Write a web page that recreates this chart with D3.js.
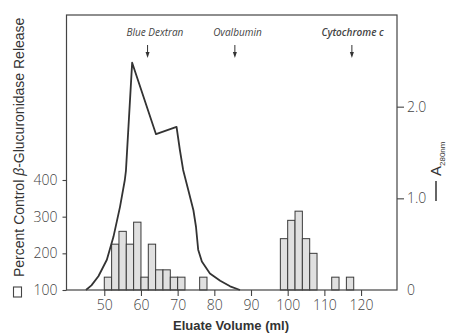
<!DOCTYPE html>
<html>
<head>
<meta charset="utf-8">
<script src="https://cdn.jsdelivr.net/npm/d3@7"></script>
<style>
  body { margin: 0; background: #fff; }
  .tick text { font-family: "Open Sans", sans-serif; font-weight: 300; font-size: 14px; fill: #444; }
  .marker { font-family: "Open Sans", sans-serif; font-style: italic; font-size: 10px; fill: #444; }
</style>
</head>
<body>
<script>
// fractions: left edge of each 2 ml fraction, and % control release
var binStart = [50, 52, 54, 56, 58, 60, 62, 64, 66, 68, 70, 76, 98, 100, 102, 104, 106, 112, 116]
var release  = [135, 225, 260, 225, 285, 135, 225, 155, 155, 135, 135, 135, 240, 290, 315, 240, 200, 135, 135]
var binWidth = 2

// A280 trace
var volume = [45, 46.5, 48.4, 50.7, 52.5, 54.3, 55.6, 55.9, 57.6, 64.1, 69.7, 70.6, 71.5, 72.9, 74.3, 75.0, 75.6, 76.6, 78.8, 81.6, 84.3, 87]
var a280   = [0, 0.05, 0.15, 0.33, 0.58, 0.91, 1.20, 1.30, 2.48, 1.70, 1.78, 1.53, 1.31, 1.09, 0.87, 0.69, 0.44, 0.31, 0.18, 0.10, 0.04, 0]

// markers
var markerNames = ["Blue Dextran", "Ovalbumin", "Cytochrome c"]
var markerVolume = [61.8, 85.6, 117.5]
var markerLabelVolume = [63.8, 86.3, 117.7]

var xTicks = [50, 60, 70, 80, 90, 100, 110, 120]
var leftTicks = [100, 200, 300, 400]
var rightTicks = [0, 1.0, 2.0]

function main() {
  var svg = d3.select("body").append("svg").attr("width", 452).attr("height", 333)

  var left = 66.5, right = 397, top = 15, bottom = 290

  var x = d3.scaleLinear().domain([39.7, 129.8]).range([left, right])
  var yL = d3.scaleLinear().domain([100, 850]).range([bottom, top])
  var yR = d3.scaleLinear().domain([0, 3]).range([bottom, top])

  // bars
  var bars = binStart.map(function(d, i) { return {x0: d, v: release[i]} })
  svg.selectAll("rect.bar")
    .data(bars)
    .enter()
    .append("rect")
    .attr("class", "bar")
    .attr("x", function(d) { return x(d.x0) })
    .attr("width", function(d) { return x(d.x0 + binWidth) - x(d.x0) })
    .attr("y", function(d) { return yL(d.v) })
    .attr("height", function(d) { return yL(100) - yL(d.v) })
    .attr("fill", "#e0e0e0")
    .attr("stroke", "#3a3a3a")
    .attr("stroke-width", 1)

  // A280 line
  var pts = volume.map(function(d, i) { return [d, a280[i]] })
  var line = d3.line()
    .x(function(d) { return x(d[0]) })
    .y(function(d) { return yR(d[1]) })
  svg.append("path")
    .datum(pts)
    .attr("d", line)
    .attr("fill", "none")
    .attr("stroke", "#333")
    .attr("stroke-width", 1.8)
    .attr("stroke-linejoin", "round")

  // frame
  svg.append("rect")
    .attr("x", left).attr("y", top)
    .attr("width", right - left).attr("height", bottom - top)
    .attr("fill", "none")
    .attr("stroke", "#444")
    .attr("stroke-width", 1.2)

  // axes
  var gx = svg.append("g").attr("transform", "translate(0," + bottom + ")")
    .call(d3.axisBottom(x).tickValues(xTicks).tickSize(6).tickPadding(4).tickFormat(d3.format("d")))
  var gl = svg.append("g").attr("transform", "translate(" + left + ",0)")
    .call(d3.axisLeft(yL).tickValues(leftTicks).tickSize(4).tickPadding(5).tickFormat(d3.format("d")))
  var gr = svg.append("g").attr("transform", "translate(" + right + ",0)")
    .call(d3.axisRight(yR).tickValues(rightTicks).tickSize(7).tickPadding(3)
      .tickFormat(function(d) { return d === 0 ? "0" : d3.format(".1f")(d) }))
  ;[gx, gl, gr].forEach(function(g) {
    g.select(".domain").remove()
    g.selectAll(".tick line").attr("stroke", "#444").attr("stroke-width", 1.1)
  })
  gr.selectAll(".tick").filter(function(d) { return d === 0 }).select("line").remove()
  gr.selectAll(".tick").filter(function(d) { return d === 0 }).select("text").attr("x", 10)

  // markers
  markerNames.forEach(function(name, i) {
    svg.append("text")
      .attr("class", "marker")
      .attr("x", x(markerLabelVolume[i]))
      .attr("y", 36)
      .attr("text-anchor", "middle")
      .style("font-weight", i === 2 ? 600 : 400)
      .text(name)
    var ax = x(markerVolume[i])
    svg.append("line")
      .attr("x1", ax).attr("x2", ax).attr("y1", 45).attr("y2", 55)
      .attr("stroke", "#333").attr("stroke-width", 1)
    svg.append("path")
      .attr("d", "M" + (ax - 2) + ",52 L" + (ax + 2) + ",52 L" + ax + ",58 Z")
      .attr("fill", "#333")
  })

  // axis titles
  svg.append("text")
    .attr("x", 231).attr("y", 330)
    .attr("text-anchor", "middle")
    .style("font-family", "Liberation Sans, Arial, sans-serif")
    .style("font-size", "13px")
    .style("font-weight", "bold")
    .attr("fill", "#333")
    .text("Eluate Volume (ml)")

  var lt = svg.append("text")
    .attr("transform", "translate(24,277) rotate(-90)")
    .style("font-family", "Liberation Sans, Arial, sans-serif")
    .style("font-size", "14px")
    .attr("fill", "#333")
  lt.append("tspan").text("Percent Control ")
  lt.append("tspan").style("font-style", "italic").text("\u03B2")
  lt.append("tspan").text("-Glucuronidase Release")

  svg.append("rect")
    .attr("x", 13.5).attr("y", 287).attr("width", 8).attr("height", 10)
    .attr("fill", "none").attr("stroke", "#444").attr("stroke-width", 1.1)

  var rt = svg.append("g").attr("transform", "translate(437,201) rotate(-90)")
  rt.append("line").attr("x1", 0).attr("x2", 20).attr("y1", -1).attr("y2", -1)
    .attr("stroke", "#333").attr("stroke-width", 1.5)
  var rtxt = rt.append("text").attr("x", 25).attr("y", 4)
    .style("font-family", "Liberation Sans, Arial, sans-serif")
    .style("font-size", "15px")
    .attr("fill", "#333")
  rtxt.append("tspan").text("A")
  rtxt.append("tspan").attr("dy", 4).style("font-size", "8px").text("280nm")
}

main()
</script>
</body>
</html>
